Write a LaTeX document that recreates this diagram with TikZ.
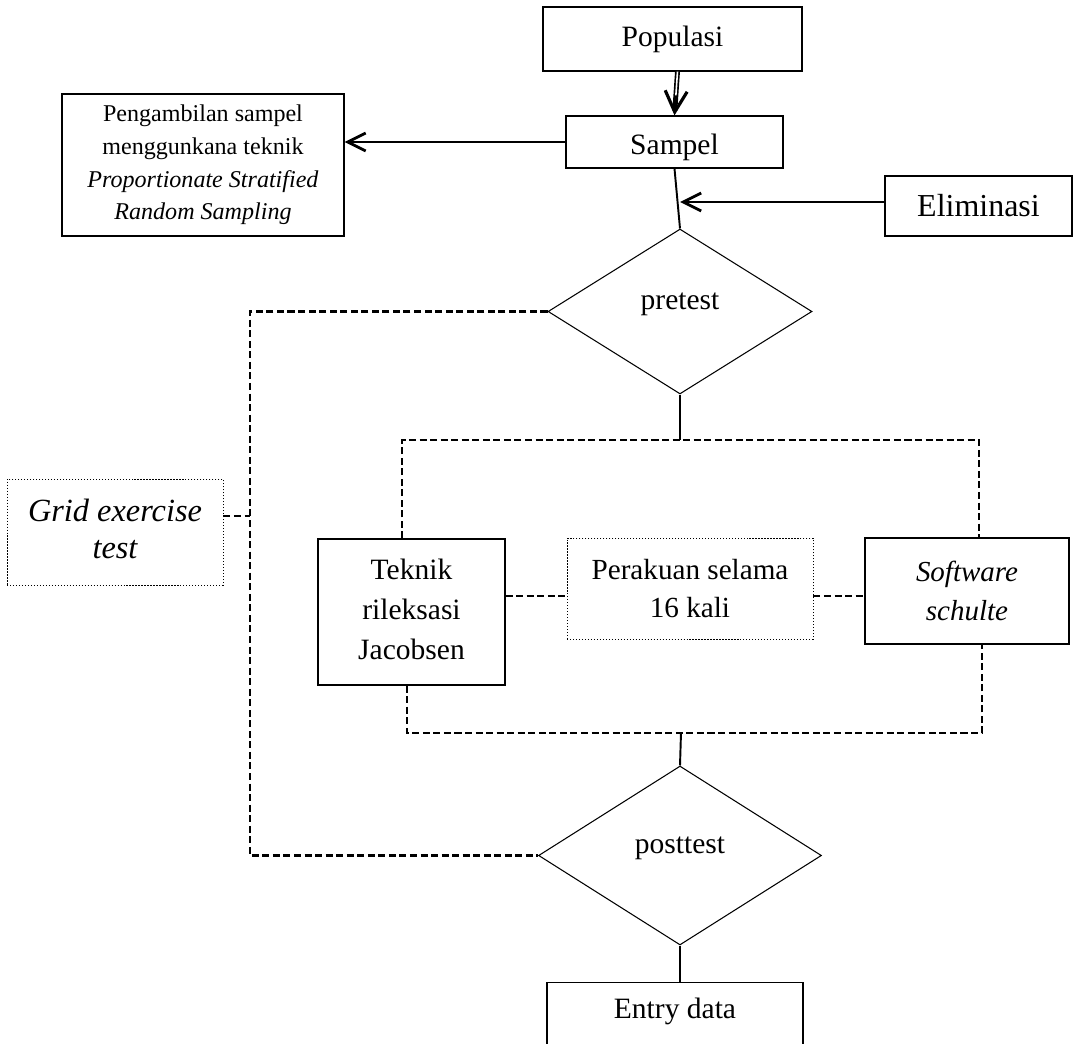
\documentclass[tikz,border=0pt]{standalone}
\usepackage{fontspec}
\setmainfont{Liberation Serif}
\usetikzlibrary{arrows.meta,shapes,positioning}

\begin{document}
\begin{tikzpicture}[x=0.02cm,y=-0.02cm,
  box/.style={draw,line width=0.7pt,inner sep=0pt,align=center,font=\fontsize{16.8}{22.8}\selectfont},
  dotbox/.style={box,densely dotted,line width=0.5pt},
  dec/.style={draw,diamond,line width=0.6pt,inner sep=0pt,aspect=1.6,font=\fontsize{16.8}{22.8}\selectfont,text height=0.4cm,text depth=0.48cm},
  link/.style={line width=1.3pt,dash pattern=on 4pt off 2pt},
  wire/.style={line width=1.1pt},
  arr/.style={line width=1.6pt,-{Straight Barb[length=0.36cm,width=0.36cm]}}]
  \path[use as bounding box,clip] (0,0) rectangle (1073,1044);
  \node[box,minimum width=5.18cm,minimum height=1.28cm] (pop) at (672.5,39) {Populasi};
  \node[box,minimum width=4.34cm,minimum height=1.04cm,text height=0.5cm,text depth=0cm] (samp) at (674.5,142) {Sampel};
  \node[box,minimum width=5.64cm,minimum height=2.84cm,font=\fontsize{13.7}{18.6}\selectfont] (ambil) at (203,165)
    {Pengambilan sampel\\menggunkana teknik\\\textit{Proportionate Stratified}\\\textit{Random Sampling}};
  \node[box,minimum width=3.74cm,minimum height=1.2cm,font=\fontsize{18.2}{21}\selectfont] (elim) at (978.5,206) {Eliminasi};
  \node[dec,minimum width=5.28cm,minimum height=3.3cm] (pre) at (680,311.5) {pretest};
  \node[dotbox,minimum width=4.32cm,minimum height=2.12cm,font=\itshape\fontsize{18.4}{21}\selectfont] (grid) at (115,532)
    {Grid exercise\\test\vphantom{p}};
  \node[box,minimum width=3.74cm,minimum height=2.92cm] (tek) at (411.5,612) {Teknik\\rileksasi\\Jacobsen\vphantom{p}};
  \node[dotbox,minimum width=4.92cm,minimum height=2.02cm,font=\fontsize{16.6}{21.6}\selectfont] (per) at (690,588.5)
    {Perakuan selama\\16 kali};
  \node[box,minimum width=4.08cm,minimum height=2.12cm,font=\itshape\fontsize{16.5}{22.2}\selectfont] (soft) at (967,591)
    {Software\\schulte};
  \node[dec,minimum width=5.66cm,minimum height=3.58cm] (post) at (680,855.5) {posttest};
  \node[box,anchor=north,minimum width=5.12cm,text height=0.72cm,text depth=1cm] (entry) at (675,982) {Entry data};
  \coordinate (gl) at (250,516);
  \coordinate (up) at (680,440);
  \coordinate (dn) at (681,733);
  \coordinate (mid) at (700,596);
  \coordinate (tl) at (402,0);
  \coordinate (tr) at (979,0);
  \coordinate (bl) at (407,0);
  \coordinate (br) at (982,0);
  \draw[line width=2.8pt,-{Straight Barb[length=0.42cm,width=0.44cm,line width=1.8pt]}] ([xshift=0.1cm]pop.south) -- (samp.north);
  \draw[white,line width=0.9pt,shorten >=0.4cm] ([xshift=0.1cm]pop.south) -- (samp.north);
  \draw[wire] (samp.south) -- (pre.north);
  \draw[arr] (samp.west) -- (samp.west -| ambil.east);
  \draw[arr] ([yshift=0.08cm]elim.west) -- ([yshift=0.08cm]elim.west -| pre.north);
  \draw[wire] (pre.south) -- (up);
  \draw[link] (tek.north -| tl) -- (tl |- up) -- (tr |- up) -- (soft.north -| tr);
  \draw[link] (tek.south -| bl) -- (bl |- dn) -- (br |- dn) -- (soft.south -| br);
  \draw[wire] (dn) -- (post.north);
  \draw[link] (tek.east |- mid) -- (per.west |- mid);
  \draw[link] (per.east |- mid) -- (soft.west |- mid);
  \draw[link] (pre.west) -- (pre.west -| gl) |- (post.west);
  \draw[link] (grid.east |- gl) -- (gl);
  \draw[wire] (post.south) -- (post.south |- entry.north);
\end{tikzpicture}
\end{document}
